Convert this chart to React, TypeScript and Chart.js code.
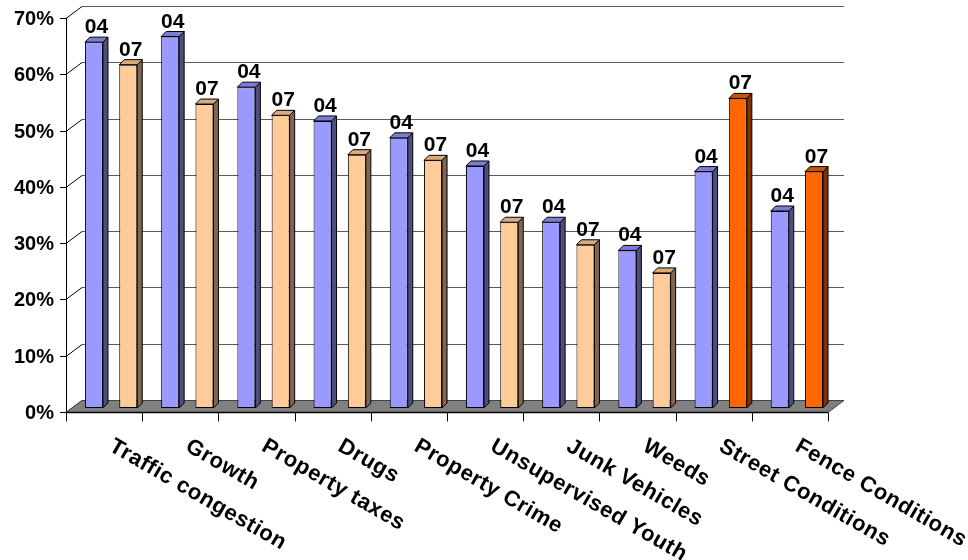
import { useEffect, useRef } from "react";
import { Chart, registerables } from "chart.js";

Chart.register(...registerables);

const categories = [
  "Traffic congestion",
  "Growth",
  "Property taxes",
  "Drugs",
  "Property Crime",
  "Unsupervised Youth",
  "Junk Vehicles",
  "Weeds",
  "Street Conditions",
  "Fence Conditions",
];
const seriesNames = ["04", "07"];
const series04 = [0.65, 0.66, 0.57, 0.51, 0.48, 0.43, 0.33, 0.28, 0.42, 0.35];
const series07 = [0.61, 0.54, 0.52, 0.45, 0.44, 0.33, 0.29, 0.24, 0.55, 0.42];
const highlighted = ["Street Conditions", "Fence Conditions"];
const yMin = 0;
const yMax = 0.7;
const yStep = 0.1;

const FONT = "'Liberation Sans', Arial, sans-serif";
const BAR_SHIFT = { x: 7, y: -4 };
const BAR_DEPTH = { x: 5, y: 5 };
const WALL = { x: 16, y: -12 };

const BLUE = "#9999FF";
const PEACH = "#FFCC99";
const ORANGE = "#FF6600";
const faceColors: Record<string, { side: string; top: string }> = {
  [BLUE]: { side: "#4D4D80", top: "#7C7CD6" },
  [PEACH]: { side: "#806650", top: "#D9AA7A" },
  [ORANGE]: { side: "#803300", top: "#CC5200" },
};

const color07 = categories.map((c) => (highlighted.includes(c) ? ORANGE : PEACH));

const threeD = {
  id: "threeD",
  beforeDatasetsDraw(chart: any) {
    const { ctx, chartArea: a, scales } = chart;
    const y = scales.y;
    ctx.save();
    // back wall gridlines + left wall diagonals
    y.ticks.forEach((t: any) => {
      const py = Math.round(y.getPixelForValue(t.value)) + 0.5;
      ctx.strokeStyle = "#000";
      ctx.lineWidth = 1;
      ctx.beginPath();
      ctx.moveTo(a.left, py);
      ctx.lineTo(a.left + WALL.x, py + WALL.y);
      ctx.stroke();
      ctx.strokeStyle = "#5a5a5a";
      ctx.beginPath();
      ctx.moveTo(a.left + WALL.x, py + WALL.y);
      ctx.lineTo(a.right + WALL.x, py + WALL.y);
      ctx.stroke();
    });
    // floor
    const base = Math.round(y.getPixelForValue(0)) + 0.5;
    ctx.fillStyle = "#808080";
    ctx.beginPath();
    ctx.moveTo(a.left, base);
    ctx.lineTo(a.right, base);
    ctx.lineTo(a.right + WALL.x, base + WALL.y);
    ctx.lineTo(a.left + WALL.x, base + WALL.y);
    ctx.closePath();
    ctx.fill();
    ctx.strokeStyle = "#444";
    ctx.stroke();
    // front axes
    ctx.strokeStyle = "#000";
    ctx.lineWidth = 1.5;
    ctx.beginPath();
    ctx.moveTo(a.left, base);
    ctx.lineTo(a.right, base);
    ctx.stroke();
    ctx.lineWidth = 1;
    ctx.beginPath();
    ctx.moveTo(a.left + 0.5, Math.round(y.getPixelForValue(yMax)));
    ctx.lineTo(a.left + 0.5, base);
    ctx.stroke();
    // y ticks and labels
    ctx.fillStyle = "#000";
    ctx.font = `bold 20px ${FONT}`;
    ctx.textAlign = "right";
    ctx.textBaseline = "middle";
    y.ticks.forEach((t: any) => {
      const py = Math.round(y.getPixelForValue(t.value)) + 0.5;
      ctx.beginPath();
      ctx.moveTo(a.left - 6, py);
      ctx.lineTo(a.left, py);
      ctx.stroke();
      ctx.fillText(`${Math.round(t.value * 100)}%`, a.left - 12, py + 1);
    });
    // x tick marks at category boundaries
    const n = categories.length;
    const w = (a.right - a.left) / n;
    for (let i = 0; i <= n; i++) {
      const px = Math.round(a.left + i * w) + 0.5;
      ctx.beginPath();
      ctx.moveTo(px, base);
      ctx.lineTo(px, base + 9);
      ctx.stroke();
    }
    ctx.restore();
    ctx.save();
    ctx.translate(BAR_SHIFT.x, BAR_SHIFT.y);
  },
  afterDatasetsDraw(chart: any) {
    const { ctx } = chart;
    chart.data.datasets.forEach((ds: any, di: number) => {
      const meta = chart.getDatasetMeta(di);
      meta.data.forEach((el: any, i: number) => {
        const bg = Array.isArray(ds.backgroundColor) ? ds.backgroundColor[i] : ds.backgroundColor;
        const fc = faceColors[bg];
        const l = el.x - el.width / 2;
        const r = el.x + el.width / 2;
        const top = el.y;
        const bot = el.base;
        ctx.strokeStyle = "#000";
        ctx.lineWidth = 1;
        ctx.lineJoin = "round";
        // side face
        ctx.fillStyle = fc.side;
        ctx.beginPath();
        ctx.moveTo(r, top);
        ctx.lineTo(r + BAR_DEPTH.x, top - BAR_DEPTH.y);
        ctx.lineTo(r + BAR_DEPTH.x, bot - BAR_DEPTH.y);
        ctx.lineTo(r, bot);
        ctx.closePath();
        ctx.fill();
        ctx.stroke();
        // top face
        ctx.fillStyle = fc.top;
        ctx.beginPath();
        ctx.moveTo(l, top);
        ctx.lineTo(l + BAR_DEPTH.x, top - BAR_DEPTH.y);
        ctx.lineTo(r + BAR_DEPTH.x, top - BAR_DEPTH.y);
        ctx.lineTo(r, top);
        ctx.closePath();
        ctx.fill();
        ctx.stroke();
      });
    });
    ctx.restore();
    // data labels (series names)
    ctx.save();
    ctx.fillStyle = "#000";
    ctx.font = `bold 21px ${FONT}`;
    ctx.textAlign = "center";
    ctx.textBaseline = "alphabetic";
    chart.data.datasets.forEach((ds: any, di: number) => {
      const meta = chart.getDatasetMeta(di);
      meta.data.forEach((el: any) => {
        ctx.fillText(
          ds.label,
          el.x + BAR_SHIFT.x + BAR_DEPTH.x / 2,
          el.y + BAR_SHIFT.y - BAR_DEPTH.y - 4
        );
      });
    });
    // rotated category labels
    const { chartArea: a, scales } = chart;
    ctx.font = `bold 22px ${FONT}`;
    (ctx as any).letterSpacing = "0.6px";
    ctx.textAlign = "left";
    categories.forEach((c, i) => {
      const px = scales.x.getPixelForValue(i) + 4;
      const py = a.bottom + 38;
      ctx.save();
      ctx.translate(px, py);
      ctx.rotate((30 * Math.PI) / 180);
      ctx.fillText(c, 0, 0);
      ctx.restore();
    });
    ctx.restore();
  },
};

export default function App() {
  const ref = useRef<HTMLCanvasElement | null>(null);
  useEffect(() => {
    if (!ref.current) return;
    const chart = new Chart(ref.current, {
      type: "bar",
      data: {
        labels: categories,
        datasets: [
          {
            label: seriesNames[0],
            data: series04,
            backgroundColor: categories.map(() => BLUE),
            borderColor: "#000",
            borderWidth: 1,
            borderSkipped: false,
            clip: false as any,
          },
          {
            label: seriesNames[1],
            data: series07,
            backgroundColor: color07,
            borderColor: "#000",
            borderWidth: 1,
            borderSkipped: false,
            clip: false as any,
          },
        ],
      },
      options: {
        animation: false,
        responsive: false,
        maintainAspectRatio: false,
        layout: { padding: { left: 66, right: 140, top: 18, bottom: 148 } },
        datasets: { bar: { categoryPercentage: 0.9, barPercentage: 0.525 } },
        plugins: { legend: { display: false }, tooltip: { enabled: false } },
        scales: {
          x: { display: false, offset: true },
          y: { display: false, min: yMin, max: yMax, ticks: { stepSize: yStep } },
        },
      },
      plugins: [threeD],
    });
    return () => chart.destroy();
  }, []);
  return (
    <div style={{ position: "absolute", left: 0, top: 0, width: 968, height: 560, background: "#fff" }}>
      <canvas ref={ref} width={968} height={560} style={{ width: 968, height: 560, display: "block" }} />
    </div>
  );
}
